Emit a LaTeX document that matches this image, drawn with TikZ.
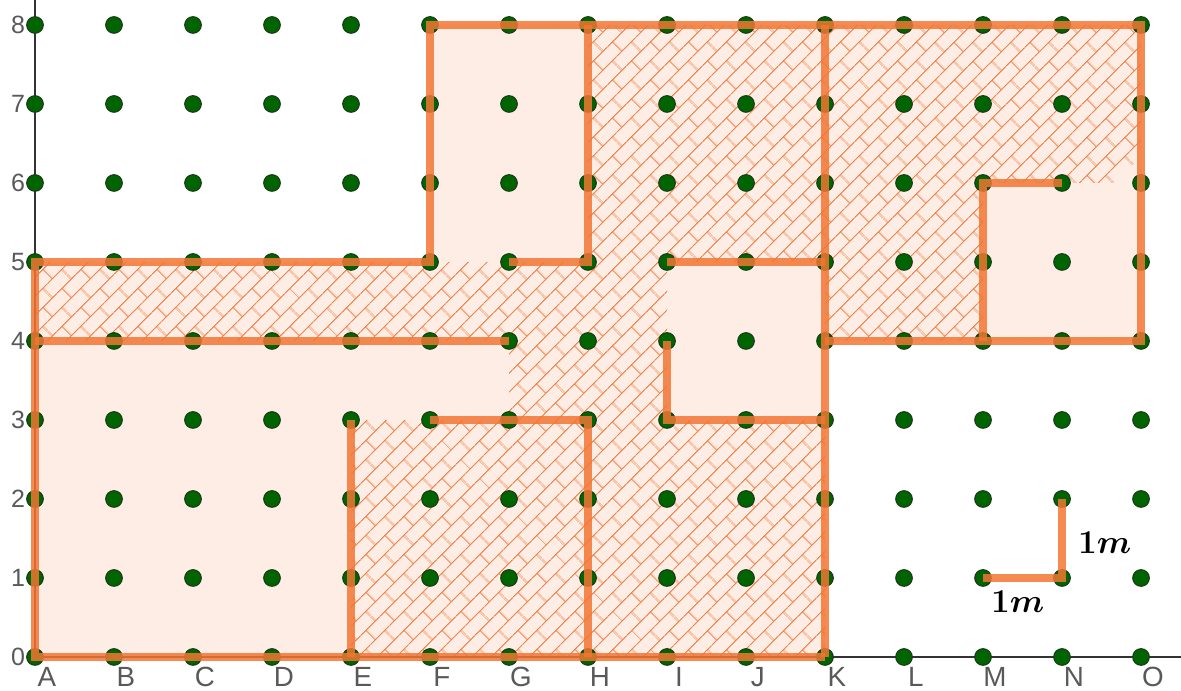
\documentclass[tikz,border=0pt]{standalone}
\usepackage{bm}
\usepackage{fontspec}
\newfontfamily\axisfont{Liberation Sans}
\usepackage{tikz}
\usetikzlibrary{patterns.meta}

\definecolor{wallorange}{RGB}{243,118,52}
\definecolor{hatchorange}{RGB}{238,132,76}
\definecolor{floorpeach}{RGB}{253,237,228}
\definecolor{pegreen}{RGB}{0,100,0}
\definecolor{pegedge}{RGB}{25,60,25}

\tikzdeclarepattern{
  name=brickwall,
  type=uncolored,
  bounding box={(0,0) and (9.6pt,9.6pt)},
  tile size={(9.6pt,9.6pt)},
  tile transformation={rotate=45},
  code={
    \draw[line width=.4pt] (0,2.4pt) -- (9.6pt,2.4pt) (0,7.2pt) -- (9.6pt,7.2pt)
      (2.4pt,2.4pt) -- (2.4pt,7.2pt) (7.2pt,7.2pt) -- (7.2pt,9.6pt) (7.2pt,0) -- (7.2pt,2.4pt);
  }
}

\begin{document}
\begin{tikzpicture}[
  peg/.style={circle, fill=pegreen, draw=pegedge, line width=.4pt, inner sep=0pt, minimum size=.21cm},
  wall/.style={wallorange, line width=2.6pt, opacity=.85},
  floor/.style={fill=floorpeach},
  hatched/.style={pattern={brickwall}, pattern color=hatchorange},
  axis/.style={black!80, line width=.5pt},
  rowlabel/.style={font=\axisfont\small, text=black!65, inner sep=0pt},
  collabel/.style={font=\axisfont, text=black!65, inner sep=0pt},
  unitlabel/.style={font=\large, inner sep=1pt}]

  \useasboundingbox (-0.443,-0.430) rectangle (14.506,8.316);

  % grid points
  \foreach \c [count=\x from 0] in {A,B,C,D,E,F,G,H,I,J,K,L,M,N,O}
    \foreach \r in {0,...,8}
      \coordinate (\c\r) at (\x,\r);
  \coordinate (cut1) at (13.65,6);
  \coordinate (cut2) at (14,6.33);
  \coordinate (xend) at (14.506,0);
  \coordinate (yend) at (0,8.316);

  % floor and hatching
  \fill[floor] (A0) -- (K0) -- (K4) -- (O4) -- (O8) -- (F8) -- (F5) -- (A5) -- cycle;
  \path[hatched, even odd rule]
    (A0) -- (K0) -- (K4) -- (O4) -- (O8) -- (F8) -- (F5) -- (A5) -- cycle
    (A0) -- (E0) -- (E3) -- (G3) -- (G4) -- (A4) -- cycle
    (F5) rectangle (H8)
    (I3) rectangle (K5)
    (M4) -- (O4) -- (cut2) -- (cut1) -- (M6) -- cycle;

  \draw[axis] (A0) -- (xend);
  \draw[axis] (A0) -- (yend);

  \foreach \c [count=\x from 0] in {A,B,C,D,E,F,G,H,I,J,K,L,M,N,O} {
    \foreach \r in {0,...,8}
      \node[peg] (p\c\r) at (\c\r) {};
    \node[collabel] (l\c) at (\x+0.15,-0.255) {\c};
  }
  \foreach \r in {0,...,8}
    \node[rowlabel] (r\r) at (-0.215,\r) {\r};

  % walls
  \draw[wall] (A4) -- (A0) -- (K0);
  \draw[wall] (A4) -- (A5) -- (F5) -- (F8) -- (O8) -- (O4) -- (K4);
  \draw[wall] (K0) -- (K8);
  \draw[wall] (A4) -- (G4);
  \draw[wall] (E0) -- (E3);
  \draw[wall] (F3) -- (H3) -- (H0);
  \draw[wall] (G5) -- (H5) -- (H8);
  \draw[wall] (I5) -- (K5);
  \draw[wall] (I4) -- (I3) -- (K3);
  \draw[wall] (M4) -- (M6) -- (N6);

  % scale
  \draw[wall] (M1) -- (N1) -- (N2);
  \node[unitlabel] (sx) at (12.44,0.70) {$\bm{1m}$};
  \node[unitlabel] (sy) at (13.54,1.44) {$\bm{1m}$};
\end{tikzpicture}
\end{document}
